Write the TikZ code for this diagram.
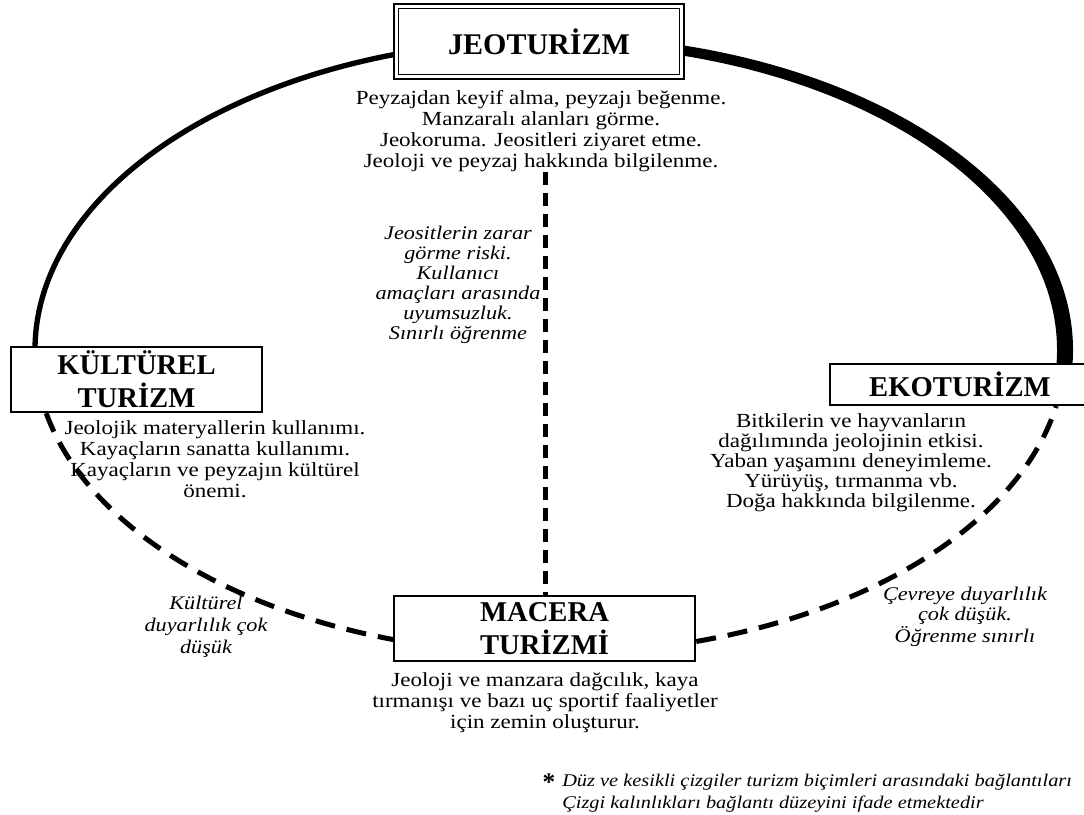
\documentclass[tikz,border=0pt]{standalone}
\usepackage{fontspec}
\setmainfont{Liberation Serif}
\newfontfamily\bodyf[FakeStretch=1.15]{Liberation Serif}
\newfontfamily\footf[FakeStretch=1.14]{Liberation Serif}
\tikzset{
  bodytext/.style={font=\bodyf\fontsize{15}{15.75}\selectfont, align=center, inner sep=0pt},
  italtext/.style={font=\bodyf\itshape\fontsize{14.5}{15}\selectfont, align=center, inner sep=0pt},
  tbox/.style={draw, line width=1.5pt, fill=white, inner sep=0pt, align=center,
               font=\bfseries\fontsize{21.5}{24.5}\selectfont},
  solidarc/.style={line width=4pt},
  dasharc/.style={line width=3.75pt, dash pattern=on 15pt off 9pt},
  vdash/.style={line width=3.75pt, dash pattern=on 9.75pt off 6pt},
}
\begin{document}
\begin{tikzpicture}[x=0.75pt,y=0.75pt]
\useasboundingbox (0,0) rectangle (1084,-814);
\fill[white] (0,0) rectangle (1084,-814);

% ellipse centre
\coordinate (O) at (550,-350);
\coordinate (a1) at ([shift={(100:386.25pt and 232.5pt)}]O);
\coordinate (t1) at ([shift={(80:392.25pt and 236.25pt)}]O);
\coordinate (t2) at ([shift={(-4:380.25pt and 228.75pt)}]O);
\coordinate (d1) at ([shift={(192:386.25pt and 228pt)}]O);
\coordinate (d2) at ([shift={(286.5:386.25pt and 228pt)}]O);

% solid arc JEOTURIZM -- KULTUREL TURIZM
\draw[solidarc] (a1) arc[start angle=100, end angle=181, x radius=386.25pt, y radius=232.5pt];
% thick arc JEOTURIZM -- EKOTURIZM
\fill (t1) arc[start angle=80, end angle=-4, x radius=392.25pt, y radius=236.25pt]
   -- (t2) arc[start angle=-4, end angle=80, x radius=380.25pt, y radius=228.75pt] -- cycle;
% dashed arcs
\draw[dasharc] (d1) arc[start angle=192, end angle=252.3, x radius=386.25pt, y radius=228pt];
\draw[dasharc] (d2) arc[start angle=286.5, end angle=349.4, x radius=386.25pt, y radius=228pt];

% boxes
\node[tbox, draw, double=white, double distance=2.2pt, line width=1.3pt,
      minimum width=214.2pt, minimum height=52.95pt,
      font=\bfseries\fontsize{22.5}{25}\selectfont] (jeo) at (539,-41.5) {JEOTURİZM};
\node[tbox, minimum width=188.25pt, minimum height=48.75pt] (kul) at (136.5,-379.5) {KÜLTÜREL\\TURİZM};
\node[tbox, minimum width=195pt, minimum height=30.75pt] (eko) at (960,-384.5) {EKOTURİZM};
\node[tbox, minimum width=225.75pt, minimum height=48.75pt] (mac) at (544.5,-628.5) {MACERA\\TURİZMİ};

% vertical dashed
\coordinate (vtop) at (545,-172);
\draw[vdash] (vtop) -- (vtop |- mac.north);

% texts
\node[bodytext] (jtxt) at (541,-131.5) {Peyzajdan keyif alma, peyzajı beğenme.\\Manzaralı alanları görme.\\Jeokoruma. Jeositleri ziyaret etme.\\Jeoloji ve peyzaj hakkında bilgilenme.};
\node[bodytext] (ktxt) at (215,-459.5) {Jeolojik materyallerin kullanımı.\\Kayaçların sanatta kullanımı.\\Kayaçların ve peyzajın kültürel\\önemi.};
\node[bodytext, font=\bodyf\fontsize{15}{15}\selectfont] (etxt) at (851,-463) {Bitkilerin ve hayvanların\\dağılımında jeolojinin etkisi.\\Yaban yaşamını deneyimleme.\\Yürüyüş, tırmanma vb.\\Doğa hakkında bilgilenme.};
\node[bodytext] (mtxt) at (545,-703) {Jeoloji ve manzara dağcılık, kaya\\tırmanışı ve bazı uç sportif faaliyetler\\için zemin oluşturur.};

\node[italtext] (itxt) at (458,-285) {Jeositlerin zarar\\görme riski.\\Kullanıcı\\amaçları arasında\\uyumsuzluk.\\Sınırlı öğrenme};
\node[italtext, font=\bodyf\itshape\fontsize{14.5}{16.5}\selectfont] (kd) at (206,-627) {Kültürel\\duyarlılık çok\\düşük};
\node[italtext] (cd) at (965,-617) {Çevreye duyarlılık\\çok düşük.\\Öğrenme sınırlı};

% footnote
\node[inner sep=0pt, font=\bfseries\fontsize{19}{19}\selectfont] (star) at (549,-782) {*};
\node[inner sep=0pt, anchor=west, align=left, font=\footf\itshape\fontsize{13.4}{16.5}\selectfont] (foot) at (562,-793)
  {Düz ve kesikli çizgiler turizm biçimleri arasındaki bağlantıları\\Çizgi kalınlıkları bağlantı düzeyini ifade etmektedir};
\end{tikzpicture}
\end{document}
